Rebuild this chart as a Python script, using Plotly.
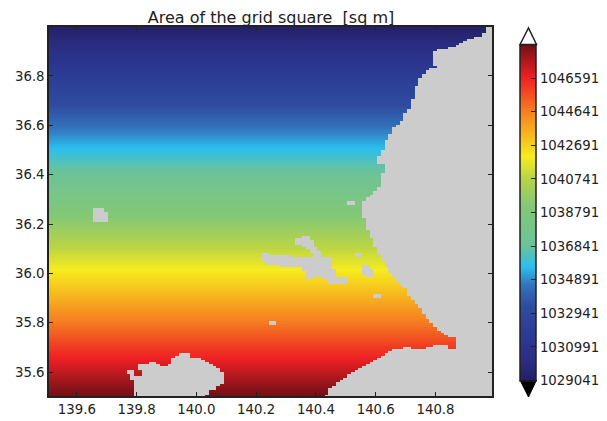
import numpy as np
import plotly.graph_objects as go

TITLE = "Area of the grid square \u00a0[sq m]"
LAT_TICKS = [35.6, 35.8, 36.0, 36.2, 36.4, 36.6, 36.8]
LON_TICKS = [139.6, 139.8, 140.0, 140.2, 140.4, 140.6, 140.8]
CBAR_TICKS = [1029041, 1030991, 1032941, 1034891, 1036841, 1038791,
              1040741, 1042691, 1044641, 1046591]
VMIN, VMAX = 1029041, 1048541

# cell area of each grid row, north to south
ROW_AREA = [
1029200,1029309,1029418,1029527,1029636,1029745,1029854,1029963,1030072,1030181,
1030290,1030399,1030508,1030617,1030726,1030835,1030944,1031053,1031162,1031271,
1031380,1031489,1031598,1031707,1031816,1031925,1032034,1032143,1032252,1032361,
1032470,1032579,1032688,1032797,1032906,1033015,1033124,1033233,1033342,1033451,
1033560,1033669,1033778,1033887,1033996,1034105,1034214,1034323,1034432,1034541,
1034650,1034759,1034868,1034977,1035086,1035195,1035304,1035413,1035522,1035631,
1035739,1035847,1035955,1036063,1036171,1036279,1036387,1036495,1036603,1036711,
1036819,1036927,1037035,1037143,1037251,1037359,1037467,1037575,1037683,1037791,
1037899,1038007,1038115,1038223,1038331,1038439,1038547,1038655,1038763,1038871,
1038979,1039087,1039195,1039303,1039411,1039519,1039627,1039735,1039843,1039951,
1040059,1040167,1040275,1040383,1040491,1040599,1040707,1040815,1040923,1041031,
1041139,1041247,1041355,1041463,1041571,1041679,1041787,1041895,1042003,1042111,
1042218,1042325,1042432,1042539,1042646,1042753,1042860,1042967,1043074,1043181,
1043288,1043395,1043502,1043609,1043716,1043823,1043930,1044037,1044144,1044251,
1044358,1044465,1044572,1044679,1044786,1044893,1045000,1045107,1045214,1045321,
1045428,1045535,1045642,1045749,1045856,1045963,1046070,1046177,1046284,1046391,
1046498,1046605,1046712,1046819,1046926,1047033,1047140,1047247,1047354,1047461,
1047568,1047675,1047782,1047889,1047996,1048103,1048210,1048317,1048424,1048531]

N_COLS = 119

# east coast: (first row, first land column) for rows until the next entry
EAST_COAST = [
(0,117),(3,116),(5,114),(6,112),(7,111),(8,110),(9,109),(10,107),(11,104),
(12,103),(19,104),(20,102),(21,101),(23,100),(25,99),(29,98),(35,97),(40,96),
(42,95),(46,94),(48,93),(49,92),(52,91),(55,90),(60,89),(63,88),(67,90),(71,89),
(78,88),(80,87),(82,86),(83,85),(85,84),(93,85),(99,86),(103,87),(107,88),
(111,89),(114,90),(117,91),(120,92),(122,93),(124,94),(126,95),(127,96),(131,97),
(133,98),(135,99),(137,100),(140,101),(142,102),(144,103),(146,104),(148,105),
(149,106),(150,107),(151,109)]

# south shore: (row, first land column)
SOUTH_SHORE = [
(157,92),(158,91),(159,90),(160,89),(161,88),(162,87),(163,86),(164,85),(165,84),
(166,83),(167,82),(168,81),(169,80),(170,80),(171,79),(172,78),(173,77),(174,77),
(175,76),(176,75),(177,75),(178,75),(179,74)]

# other land: (first row, last row, first col, last col)
LAND_PATCHES = [
(155,155,103,106),(156,156,101,106),(156,156,95,96),
# inland water
(103,105,66,67),(102,106,68,69),(104,107,69,70),(107,109,70,71),(109,111,71,72),
(110,113,57,58),(111,115,58,61),(111,116,62,64),(112,116,65,68),(112,118,68,75),
(118,122,69,70),(118,121,71,72),(113,122,73,75),(122,124,75,79),(118,122,76,76),
(110,111,82,83),(116,120,84,85),(118,121,85,86),(130,131,87,88),(143,144,59,60),
(85,86,80,81),
# north-west pond
(88,94,12,14),(90,94,15,15),
]

# south-west island: (column, first row, last row)
SW_ISLAND = [
(21,167,168),(22,167,171),(23,170,179),(24,164,166),(24,170,179),(25,164,179),
(26,164,179),(27,163,179),(28,163,179),(29,164,179),(30,165,179),(31,165,179),
(32,164,179),(33,161,179),(34,160,179),(35,159,179),(36,159,179),(37,159,179),
(38,161,179),(39,161,179),(40,161,179),(41,162,179),(42,163,178),(43,164,176),
(44,165,176),(45,166,174),(46,168,173)]

z = np.tile(np.array(ROW_AREA, dtype=float)[:, None], (1, N_COLS))
for i, (r0, c) in enumerate(EAST_COAST):
    r1 = EAST_COAST[i + 1][0] if i + 1 < len(EAST_COAST) else 157
    z[r0:r1, c:] = np.nan
for r, c in SOUTH_SHORE:
    z[r, c:] = np.nan
for r0, r1, c0, c1 in LAND_PATCHES:
    z[r0:r1 + 1, c0:c1 + 1] = np.nan
for c, r0, r1 in SW_ISLAND:
    z[r0:r1 + 1, c] = np.nan

COLORS = [
[0.0, "rgb(36,30,100)"], [0.05, "rgb(41,44,128)"], [0.12, "rgb(43,56,146)"],
[0.22, "rgb(47,76,160)"], [0.285, "rgb(50,118,190)"], [0.335, "rgb(42,190,238)"],
[0.40, "rgb(108,195,152)"], [0.52, "rgb(132,200,118)"], [0.60, "rgb(185,212,70)"],
[0.665, "rgb(246,236,30)"], [0.79, "rgb(246,135,32)"], [0.90, "rgb(238,32,36)"],
[1.0, "rgb(112,16,22)"]]

INK = "#222222"
W, H = 607, 421
L, R, T, B = 49, 492, 27, 396
px = lambda x: (x - L) / (R - L)
py = lambda y: (B - y) / (B - T)

fig = go.Figure(go.Heatmap(
    z=z, x0=139.51, dx=0.0125, y0=36.9958, dy=-1 / 120,
    zmin=VMIN, zmax=VMAX, colorscale=COLORS, hoverongaps=False,
    colorbar=dict(
        x=px(520), xanchor="left", xpad=0, y=py(44.5), yanchor="top", ypad=0,
        lenmode="pixels", len=335.5, thicknessmode="pixels", thickness=16,
        outlinecolor=INK, outlinewidth=1.5, borderwidth=0,
        tickmode="array", tickvals=CBAR_TICKS, ticktext=[str(v) for v in CBAR_TICKS],
        ticks="inside", ticklen=5, tickwidth=1, tickcolor=INK,
        tickfont=dict(family="DejaVu Sans", size=13.3, color=INK),
    ),
))

axis = dict(showgrid=False, zeroline=False, showline=True, linecolor=INK, linewidth=1.5,
            mirror="ticks", ticks="inside", ticklen=4, tickwidth=1, tickcolor=INK,
            tickformat=".1f", tickfont=dict(family="DejaVu Sans", size=13.3, color=INK))

fig.update_layout(
    width=W, height=H, autosize=False,
    margin=dict(l=L, r=W - R, t=T, b=H - B, pad=0, autoexpand=False),
    paper_bgcolor="white", plot_bgcolor="#cbcccb",
    title=dict(text=TITLE, x=271 / W, xanchor="center", y=1 - 17 / H, yanchor="middle",
               font=dict(family="DejaVu Sans", size=16, color=INK)),
    xaxis=dict(axis, range=[139.507, 140.989], tickvals=LON_TICKS),
    yaxis=dict(axis, range=[35.5035, 36.9985], tickvals=LAT_TICKS),
    shapes=[
        dict(type="path", xref="paper", yref="paper", layer="above",
             path=f"M {px(520)} {py(44.5)} L {px(528.5)} {py(28)} L {px(536.5)} {py(44.5)} Z",
             fillcolor="white", line=dict(color=INK, width=1.5)),
        dict(type="path", xref="paper", yref="paper", layer="above",
             path=f"M {px(520)} {py(380)} L {px(528.5)} {py(397)} L {px(536.5)} {py(380)} Z",
             fillcolor="black", line=dict(color="black", width=1)),
    ],
)

fig.write_html("out.html", config=dict(displayModeBar=False),
               post_script="document.body.style.margin='0';")
